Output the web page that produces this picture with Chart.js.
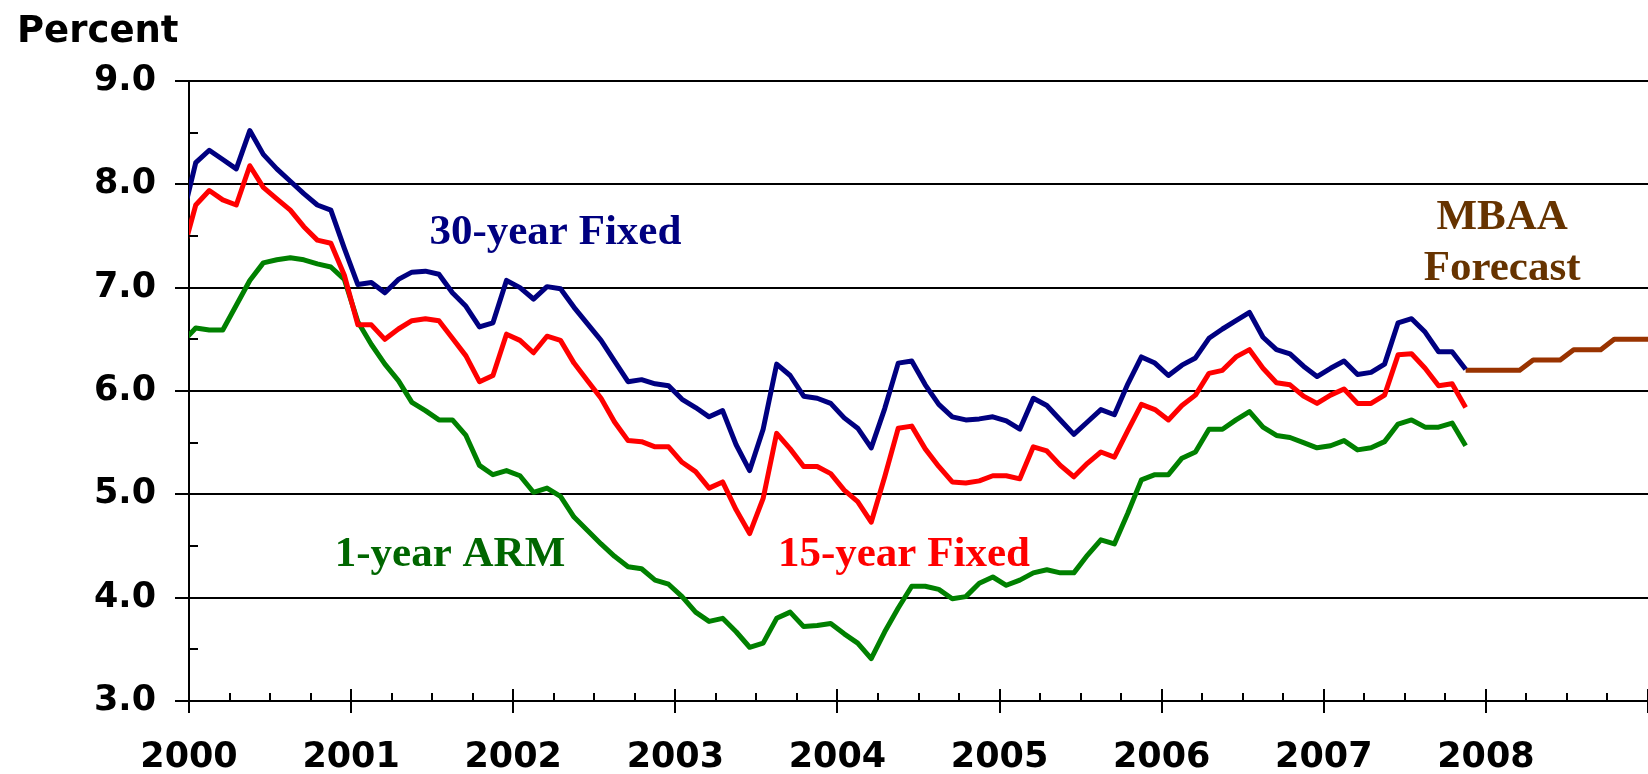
<!DOCTYPE html>
<html>
<head>
<meta charset="utf-8">
<script src="https://cdn.jsdelivr.net/npm/chart.js@4"></script>
<style>
  html, body { margin: 0; padding: 0; background: #ffffff; }
  #wrap { width: 1648px; height: 774px; }
</style>
</head>
<body>
<div id="wrap"><canvas id="c" width="1648" height="774"></canvas></div>
<script>
// ---- Data (monthly averages, first value = Dec 1999) ----
const seriesStart = { year: 1999, month: 12 };
const fixed30 = [7.67,
  8.21, 8.33, 8.24, 8.15, 8.52, 8.29, 8.15, 8.03, 7.91, 7.80, 7.75, 7.38,
  7.03, 7.05, 6.95, 7.08, 7.15, 7.16, 7.13, 6.95, 6.82, 6.62, 6.66, 7.07,
  7.00, 6.89, 7.01, 6.99, 6.81, 6.65, 6.49, 6.29, 6.09, 6.11, 6.07, 6.05,
  5.92, 5.84, 5.75, 5.81, 5.48, 5.23, 5.63, 6.26, 6.15, 5.95, 5.93, 5.88,
  5.74, 5.64, 5.45, 5.83, 6.27, 6.29, 6.06, 5.87, 5.75, 5.72, 5.73, 5.75,
  5.71, 5.63, 5.93, 5.86, 5.72, 5.58, 5.70, 5.82, 5.77, 6.07, 6.33, 6.27,
  6.15, 6.25, 6.32, 6.51, 6.60, 6.68, 6.76, 6.52, 6.40, 6.36, 6.24, 6.14,
  6.22, 6.29, 6.16, 6.18, 6.26, 6.66, 6.70, 6.57, 6.38, 6.38, 6.21];
const fixed15 = [7.32,
  7.80, 7.94, 7.85, 7.80, 8.18, 7.97, 7.86, 7.75, 7.59, 7.46, 7.43, 7.12,
  6.64, 6.64, 6.50, 6.60, 6.68, 6.70, 6.68, 6.51, 6.34, 6.09, 6.15, 6.55,
  6.49, 6.37, 6.53, 6.49, 6.27, 6.10, 5.93, 5.70, 5.52, 5.51, 5.46, 5.46,
  5.31, 5.22, 5.06, 5.12, 4.85, 4.62, 4.96, 5.59, 5.44, 5.27, 5.27, 5.20,
  5.04, 4.93, 4.73, 5.17, 5.64, 5.66, 5.44, 5.27, 5.12, 5.11, 5.13, 5.18,
  5.18, 5.15, 5.46, 5.42, 5.28, 5.17, 5.30, 5.41, 5.36, 5.62, 5.87, 5.82,
  5.72, 5.86, 5.96, 6.17, 6.20, 6.33, 6.40, 6.22, 6.08, 6.06, 5.95, 5.88,
  5.96, 6.02, 5.88, 5.88, 5.96, 6.35, 6.36, 6.22, 6.05, 6.07, 5.84];
const arm1 = [6.47,
  6.61, 6.59, 6.59, 6.83, 7.07, 7.24, 7.27, 7.29, 7.27, 7.23, 7.20, 7.08,
  6.67, 6.45, 6.26, 6.10, 5.89, 5.81, 5.72, 5.72, 5.57, 5.28, 5.19, 5.23,
  5.18, 5.02, 5.06, 4.98, 4.78, 4.65, 4.52, 4.40, 4.30, 4.28, 4.17, 4.13,
  4.01, 3.86, 3.77, 3.80, 3.67, 3.52, 3.56, 3.80, 3.86, 3.72, 3.73, 3.75,
  3.65, 3.56, 3.41, 3.67, 3.90, 4.11, 4.11, 4.08, 3.99, 4.01, 4.14, 4.20,
  4.12, 4.17, 4.24, 4.27, 4.24, 4.24, 4.41, 4.56, 4.52, 4.82, 5.14, 5.19,
  5.19, 5.35, 5.41, 5.63, 5.63, 5.72, 5.80, 5.65, 5.57, 5.55, 5.50, 5.45,
  5.47, 5.52, 5.43, 5.45, 5.51, 5.68, 5.72, 5.65, 5.65, 5.69, 5.47];
// MBAA forecast for the 30-year rate, starting Nov 2007
const forecastStart = { year: 2007, month: 11 };
const forecast = [6.2, 6.2, 6.2, 6.2, 6.2, 6.3, 6.3, 6.3, 6.4, 6.4, 6.4, 6.5, 6.5, 6.5, 6.5];

const xRange = { min: 2000, max: 2009 };
const yRange = { min: 3, max: 9 };
const yearLabels = ['2000','2001','2002','2003','2004','2005','2006','2007','2008'];

// monthly value -> point at the middle of its month
function toPoints(values, start) {
  return values.map((v, i) => ({ x: start.year + (start.month - 1 + i + 0.5) / 12, y: v }));
}

const labelNotes = [
  { lines: ['30-year Fixed'], x: 2002.26, y: 7.42, color: '#000080' },
  { lines: ['15-year Fixed'], x: 2004.41, y: 4.31, color: '#ff0000' },
  { lines: ['1-year ARM'], x: 2001.61, y: 4.31, color: '#006600' },
  { lines: ['MBAA', 'Forecast'], x: 2008.10, y: 7.57, color: '#663300' }
];

const isInt = v => Math.abs(v - Math.round(v)) < 1e-6;

const decorPlugin = {
  id: 'decor',
  afterDraw(chart) {
    const ctx = chart.ctx;
    const xs = chart.scales.x, ys = chart.scales.y;
    const area = chart.chartArea;
    ctx.save();
    ctx.strokeStyle = '#000';
    ctx.lineWidth = 2;
    // y ticks: major outside, minor inside
    ys.ticks.forEach(t => {
      const py = Math.round(ys.getPixelForValue(t.value));
      ctx.beginPath();
      if (isInt(t.value)) { ctx.moveTo(area.left - 14, py); ctx.lineTo(area.left, py); }
      else { ctx.moveTo(area.left, py); ctx.lineTo(area.left + 9, py); }
      ctx.stroke();
    });
    // x ticks: years cross the axis, quarters inside
    xs.ticks.forEach(t => {
      const px = Math.round(xs.getPixelForValue(t.value));
      ctx.beginPath();
      if (isInt(t.value)) { ctx.moveTo(px, area.bottom - 12); ctx.lineTo(px, area.bottom + 12); }
      else { ctx.moveTo(px, area.bottom - 8); ctx.lineTo(px, area.bottom); }
      ctx.stroke();
    });
    // axis unit label
    ctx.fillStyle = '#000';
    ctx.font = 'bold 37px "DejaVu Sans"';
    ctx.textAlign = 'left';
    ctx.textBaseline = 'alphabetic';
    ctx.fillText('Percent', 17, 42);
    // series labels
    ctx.font = 'bold 43px "Liberation Serif"';
    ctx.textAlign = 'center';
    labelNotes.forEach(n => {
      ctx.fillStyle = n.color;
      const px = xs.getPixelForValue(n.x);
      const py = ys.getPixelForValue(n.y);
      n.lines.forEach((ln, i) => ctx.fillText(ln, px, py + i * 51));
    });
    ctx.restore();
  }
};

new Chart(document.getElementById('c'), {
  type: 'line',
  data: {
    datasets: [
      { label: '30-year Fixed', data: toPoints(fixed30, seriesStart), borderColor: '#000080' },
      { label: '15-year Fixed', data: toPoints(fixed15, seriesStart), borderColor: '#ff0000' },
      { label: '1-year ARM', data: toPoints(arm1, seriesStart), borderColor: '#008000' },
      { label: 'MBAA Forecast', data: toPoints(forecast, forecastStart), borderColor: '#993300' }
    ]
  },
  options: {
    responsive: false,
    animation: false,
    devicePixelRatio: 1,
    layout: { padding: { top: 81, right: 0, left: 0, bottom: 0 } },
    elements: {
      line: { borderWidth: 5, tension: 0, borderJoinStyle: 'round', fill: false },
      point: { radius: 0, hoverRadius: 0 }
    },
    plugins: { legend: { display: false }, tooltip: { enabled: false }, title: { display: false } },
    scales: {
      x: {
        type: 'linear',
        min: xRange.min, max: xRange.max,
        afterFit(scale) { scale.height = 73; scale.paddingLeft = 0; scale.paddingRight = 0; },
        grid: { display: true, color: 'rgba(0,0,0,0)', drawTicks: false },
        border: { display: true, color: '#000', width: 2 },
        ticks: {
          stepSize: 0.25, autoSkip: false, maxRotation: 0, minRotation: 0,
          padding: 36, color: '#000',
          font: { family: 'DejaVu Sans', size: 35, weight: 'bold' },
          callback(v) {
            if (!isInt(v)) return '';
            const lbl = String(Math.round(v));
            return yearLabels.includes(lbl) ? lbl : '';
          }
        }
      },
      y: {
        min: yRange.min, max: yRange.max,
        afterFit(scale) { scale.width = 189; },
        grid: {
          display: true, drawTicks: false, lineWidth: 2,
          color: c => (c.tick && isInt(c.tick.value)) ? '#000' : 'rgba(0,0,0,0)'
        },
        border: { display: true, color: '#000', width: 2 },
        ticks: {
          stepSize: 0.5, autoSkip: false, padding: 33, color: '#000',
          font: { family: 'DejaVu Sans', size: 35, weight: 'bold' },
          callback(v) { return isInt(v) ? v.toFixed(1) : ''; }
        }
      }
    }
  },
  plugins: [decorPlugin]
});
</script>
</body>
</html>
